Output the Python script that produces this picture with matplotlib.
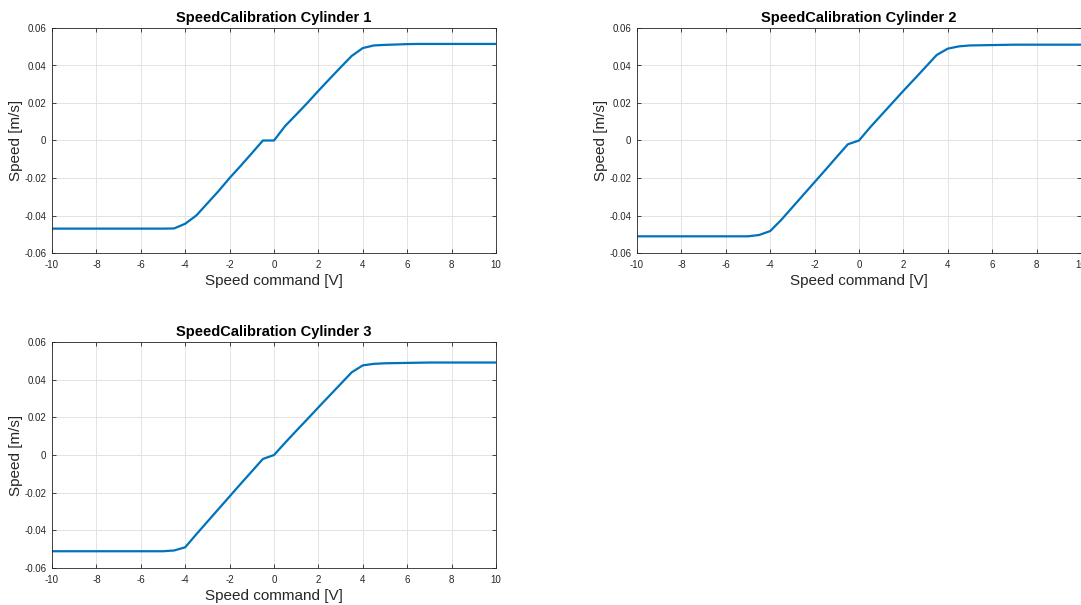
import matplotlib.pyplot as plt
import numpy as np

plt.rcParams['font.family'] = ['Liberation Sans', 'DejaVu Sans']
plt.rcParams['axes.unicode_minus'] = False

# speed command [V], 0.5 V steps
volts = np.arange(-10, 10.5, 0.5)

# measured speeds [m/s] per cylinder
speed_cyl1 = [-0.047] * 11 + [-0.0469, -0.0444, -0.0400, -0.0335, -0.0270, -0.0200,
                             -0.0135, -0.0068, 0.0, 0.0, 0.0077, 0.0138, 0.0200,
                             0.0265, 0.0328, 0.0390, 0.0451, 0.0493, 0.0507, 0.0510,
                             0.0512, 0.0514, 0.0515, 0.0515] + [0.0515] * 6
speed_cyl2 = [-0.0511] * 11 + [-0.0504, -0.0483, -0.0423, -0.0356, -0.0289, -0.0222,
                               -0.0155, -0.0087, -0.0020, 0.0, 0.0070, 0.0135, 0.0200,
                               0.0265, 0.0328, 0.0392, 0.0456, 0.0490, 0.0502, 0.0507,
                               0.0508, 0.0509, 0.0510, 0.0511] + [0.0511] * 6
speed_cyl3 = [-0.0511] * 11 + [-0.0507, -0.0490, -0.0421, -0.0354, -0.0287, -0.0220,
                               -0.0153, -0.0087, -0.0021, 0.0, 0.0065, 0.0128, 0.0190,
                               0.0253, 0.0315, 0.0377, 0.0439, 0.0476, 0.0484, 0.0487,
                               0.0488, 0.0489, 0.0490, 0.0491] + [0.0491] * 6

titles = ['SpeedCalibration Cylinder 1', 'SpeedCalibration Cylinder 2',
          'SpeedCalibration Cylinder 3']
series = [speed_cyl1, speed_cyl2, speed_cyl3]

W, H = 1081, 605
fig = plt.figure(figsize=(W / 100, H / 100), dpi=100)

# axes boxes in pixels: left, top, right, bottom
boxes = [(52, 28, 496, 253), (637, 28, 1081, 253), (52, 342, 496, 568)]

for (l, t, r, b), title, ys in zip(boxes, titles, series):
    ax = fig.add_axes([l / W, 1 - b / H, (r - l) / W, (b - t) / H])
    ax.plot(volts, ys, color='#0072BD', linewidth=1.6)
    ax.set_xlim(-10, 10)
    ax.set_ylim(-0.06, 0.06)
    ax.set_xticks(np.arange(-10, 11, 2))
    ax.set_yticks(np.arange(-0.06, 0.061, 0.02))
    ax.set_yticklabels(['-0.06', '-0.04', '-0.02', '0', '0.02', '0.04', '0.06'])
    ax.grid(True, color='#e3e3e3', linewidth=0.7)
    ax.set_axisbelow(True)
    ax.tick_params(direction='in', top=True, right=True, labelsize=7,
                   colors='#262626', length=3, width=0.6)
    ax.tick_params(axis='x', pad=5)
    ax.tick_params(axis='y', pad=4)
    for s in ax.spines.values():
        s.set_color('#262626')
        s.set_linewidth(0.6)
    ax.set_title(title, fontsize=10.5, fontweight='bold', pad=4)
    ax.set_xlabel('Speed command [V]', fontsize=11, color='#262626', labelpad=3)
    ax.set_ylabel('Speed [m/s]', fontsize=11, color='#262626', labelpad=1)

fig.savefig('out.png', dpi=100)
